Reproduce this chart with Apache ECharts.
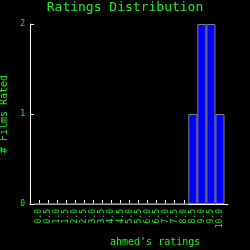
<!DOCTYPE html>
<html>
<head>
<meta charset="utf-8">
<script src="https://cdn.jsdelivr.net/npm/echarts@6/dist/echarts.min.js"></script>
<style>
  html, body { margin: 0; padding: 0; background: #000; }
  #chart { width: 250px; height: 250px; }
</style>
</head>
<body>
<div id="chart"></div>
<script>
// ratings 0.0 .. 10.0 in steps of 0.5
const ratings = ['0.0', '0.5', '1.0', '1.5', '2.0', '2.5', '3.0', '3.5', '4.0', '4.5',
  '5.0', '5.5', '6.0', '6.5', '7.0', '7.5', '8.0', '8.5', '9.0', '9.5', '10.0']
const filmCounts = [0, 0, 0, 0, 0, 0, 0, 0, 0, 0, 0, 0, 0, 0, 0, 0, 0, 1, 2, 2, 1]
const countTicks = [0, 1, 2]

const green = '#22ee22'
const mono = 'DejaVu Sans Mono'

const chart = echarts.init(document.getElementById('chart'), null, { renderer: 'canvas' })
const option = {
  backgroundColor: '#000',
  animation: false,
  title: [
    {
      text: 'Ratings Distribution',
      left: 'center',
      top: 1,
      padding: 0,
      textStyle: { color: green, fontFamily: mono, fontSize: 13, fontWeight: 'normal' }
    },
    {
      text: "ahmed's ratings",
      left: 110,
      top: 237,
      padding: 0,
      textStyle: { color: green, fontFamily: mono, fontSize: 10, fontWeight: 'normal' }
    }
  ],
  grid: [
    // bars
    { left: 34.5, right: 25.5, top: 24, bottom: 46, outerBoundsMode: 'none', containLabel: false },
    // frame with axis lines
    { left: 30, right: 22, top: 24, bottom: 46, outerBoundsMode: 'none', containLabel: false }
  ],
  xAxis: [
    {
      type: 'category',
      gridIndex: 0,
      data: ratings,
      axisLine: { show: false },
      axisTick: { show: true, inside: true, length: 4, alignWithLabel: true, interval: 0, lineStyle: { color: '#fff' } },
      axisLabel: { interval: 0, rotate: 90, margin: 5, color: green, fontFamily: mono, fontSize: 8 },
      splitLine: { show: false }
    },
    {
      type: 'value',
      gridIndex: 1,
      axisLine: { show: true, lineStyle: { color: '#fff', width: 1 } },
      axisTick: { show: false },
      axisLabel: { show: false },
      splitLine: { show: false }
    }
  ],
  yAxis: [
    {
      type: 'value',
      gridIndex: 0,
      min: countTicks[0],
      max: countTicks[countTicks.length - 1],
      show: false
    },
    {
      type: 'value',
      gridIndex: 1,
      min: countTicks[0],
      max: countTicks[countTicks.length - 1],
      interval: 1,
      name: '# Films Rated',
      nameLocation: 'middle',
      nameGap: 17,
      nameTextStyle: { color: green, fontFamily: mono, fontSize: 10 },
      axisLine: { show: true, lineStyle: { color: '#fff', width: 1 } },
      axisTick: { inside: true, length: 4, lineStyle: { color: '#fff' } },
      axisLabel: { margin: 5, color: green, fontFamily: mono, fontSize: 8 },
      splitLine: { show: false }
    }
  ],
  series: [
    {
      type: 'bar',
      xAxisIndex: 0,
      yAxisIndex: 0,
      data: filmCounts,
      barWidth: '100%',
      z: 3,
      itemStyle: { color: '#0000ff', borderColor: '#808080', borderWidth: 1 }
    }
  ]
}
chart.setOption(option)
</script>
</body>
</html>
